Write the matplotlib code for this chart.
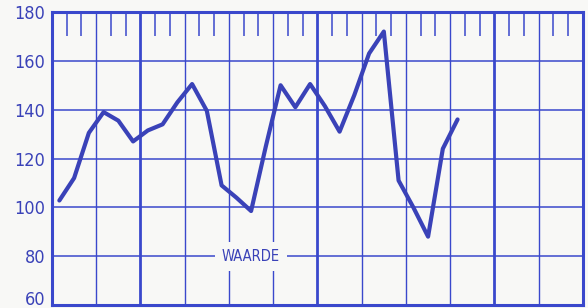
import matplotlib
matplotlib.use("Agg")
import matplotlib.pyplot as plt
import numpy as np

# monthly values (one per month, 36 month slots on the sheet)
months = np.arange(28) + 0.5
waarde = [102.8, 112, 130.5, 139, 135.5, 127, 131.5, 134, 143, 150.5,
          139.5, 109, 104, 98.5, 125, 150, 141, 150.5, 141.5, 131,
          146, 163, 172, 111, 100, 88, 124, 136]

y_ticks = [60, 80, 100, 120, 140, 160, 180]
n_slots = 36
thick_cols = [6, 18, 30]
label = "WAARDE"

blue = "#3a42b8"
grid_blue = "#3a48cc"
paper = "#f8f8f6"

plt.rcParams["font.family"] = ["DejaVu Sans"]

fig = plt.figure(figsize=(5.88, 3.08), dpi=100, facecolor=paper)
ax = fig.add_axes([0.0884, 0.0097, 0.903, 0.9513])
ax.set_facecolor(paper)

ax.set_xlim(0, n_slots)
ax.set_ylim(60, 180)

# grid
for yv in y_ticks[1:-1]:
    ax.axhline(yv, color=grid_blue, lw=1.1, zorder=1)
for xv in range(3, n_slots, 3):
    lw = 2.0 if xv in thick_cols else 1.0
    ax.axvline(xv, color=grid_blue, lw=lw, zorder=1)

for s in ax.spines.values():
    s.set_color(grid_blue)
    s.set_linewidth(2.2)

# month ticks hanging from the top edge
ax.set_xticks(range(0, n_slots + 1, 3))
ax.set_xticks([m for m in range(1, n_slots) if m % 3], minor=True)
ax.tick_params(axis="x", which="both", bottom=False, labelbottom=False,
               top=False, labeltop=False)
ax.tick_params(axis="x", which="minor", top=True, direction="in",
               length=17, width=1.1, color=grid_blue)

ax.set_yticks(y_ticks)
ax.set_yticklabels([str(v) for v in y_ticks])
ax.tick_params(axis="y", length=0, pad=5, labelsize=13, labelcolor=blue)
for t in ax.get_yticklabels():
    t.set_fontstretch("condensed")
ax.get_yticklabels()[0].set_va("baseline")

ax.plot(months, waarde, color=blue, lw=3.0, solid_joinstyle="round",
        solid_capstyle="round", zorder=3)

ax.text(13.5, 80, label, color=blue, fontsize=10.5, fontstretch="condensed",
        ha="center", va="center", zorder=2,
        bbox=dict(facecolor=paper, edgecolor="none", pad=5))

fig.savefig("out.png", dpi=100, facecolor=paper)
